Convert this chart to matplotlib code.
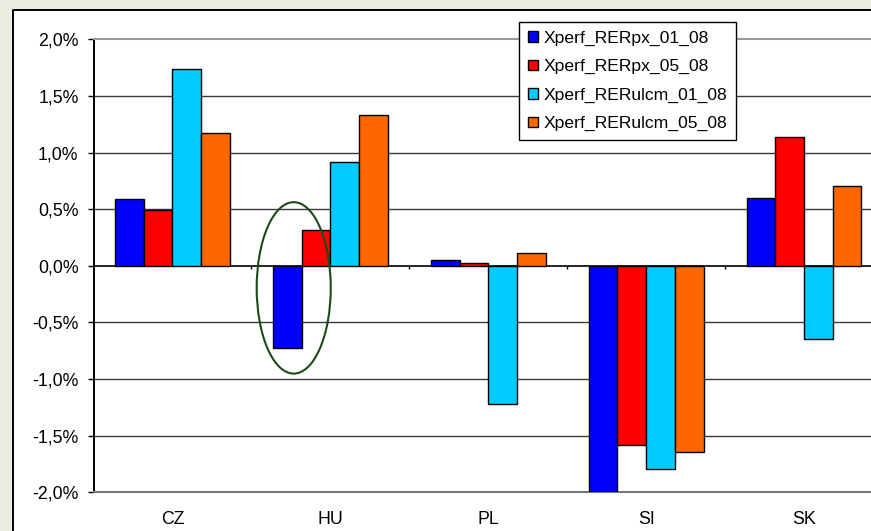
import numpy as np
import matplotlib
matplotlib.use("Agg")
import matplotlib.pyplot as plt
from matplotlib.patches import Rectangle, Ellipse
from matplotlib.lines import Line2D
from matplotlib.ticker import FuncFormatter

plt.rcParams['font.family'] = ['Liberation Sans', 'DejaVu Sans']

# data (in %)
pays = ["CZ", "HU", "PL", "SI", "SK"]
series = ["Xperf_RERpx_01_08", "Xperf_RERpx_05_08", "Xperf_RERulcm_01_08", "Xperf_RERulcm_05_08"]
rerpx_01 = [0.587, -0.727, 0.05, -2.0, 0.599]
rerpx_05 = [0.49, 0.317, 0.026, -1.585, 1.133]
rerulcm_01 = [1.734, 0.915, -1.217, -1.793, -0.645]
rerulcm_05 = [1.171, 1.329, 0.112, -1.643, 0.708]
couleurs = ["#0000FF", "#FF0000", "#00CCFF", "#FF6600"]
yticks = [-2.0, -1.5, -1.0, -0.5, 0.0, 0.5, 1.0, 1.5, 2.0]

W, H = 871, 531
fig = plt.figure(figsize=(W / 100, H / 100), dpi=100)
fig.patch.set_facecolor("#ECECE1")

# white chart area, cropped on right and bottom
x0, y0 = 13.3 / W, 1 - 9.5 / H
fond = Rectangle((x0, -0.1), 1.2, y0 + 0.1, transform=fig.transFigure,
                 facecolor="white", edgecolor="none", zorder=-5)
fig.patches.append(fond)
fig.lines.append(Line2D([x0, x0, 1.01], [-0.01, y0, y0], transform=fig.transFigure,
                        color="black", linewidth=1.4, zorder=-4))

left, right = 93.5, 93.5 + 5 * 157.9
top, bottom = 39.3, 492.3
ax = fig.add_axes([left / W, 1 - bottom / H, (right - left) / W, (bottom - top) / H])
ax.set_facecolor("white")
ax.set_zorder(1)

x = np.arange(len(pays))
w = 1 / 5.5
donnees = [rerpx_01, rerpx_05, rerulcm_01, rerulcm_05]
for i, (vals, c, lab) in enumerate(zip(donnees, couleurs, series)):
    ax.bar(x + (i - 1.5) * w, vals, w, color=c, edgecolor="black", linewidth=1.0,
           label=lab, zorder=3)

ax.set_xlim(-0.5, 4.5)
ax.set_ylim(-2.0, 2.0)
ax.set_yticks(yticks)
ax.yaxis.set_major_formatter(FuncFormatter(lambda v, p: ("%.1f%%" % v).replace(".", ",")))
for v in yticks[1:-1]:
    if v == 0:
        continue
    ax.axhline(v, color="#3a3a3a", linewidth=1.0, zorder=1)
ax.axhline(0, color="black", linewidth=1.2, zorder=2)
# category separator ticks on the zero line
ax.vlines(x[1:] - 0.5, 0, -0.027, color="black", linewidth=1.0, zorder=2)

ax.set_xticks(x)
ax.set_xticklabels(pays)
ax.tick_params(axis="x", length=0, pad=13.5, labelsize=12.8)
ax.tick_params(axis="y", length=4.3, width=1.0, pad=6.5, labelsize=12.8, direction="out")

ax.spines["left"].set_color("black")
ax.spines["left"].set_linewidth(1.4)
ax.spines["top"].set_color("#999999")
ax.spines["top"].set_linewidth(1.5)
ax.spines["bottom"].set_color("#777777")
ax.spines["bottom"].set_linewidth(1.5)
ax.spines["right"].set_visible(False)

# hand-drawn ellipse around HU
ell = Ellipse((0.768, -0.195), 0.469, 1.514, fill=False, edgecolor="#1C4A1C",
              linewidth=1.5, zorder=4)
ax.add_patch(ell)

leg = ax.legend(loc="upper left", bbox_to_anchor=(519.3 / W, 1 - 21.7 / H),
                bbox_transform=fig.transFigure, borderaxespad=0, fontsize=12.6,
                frameon=True, fancybox=False, framealpha=1, edgecolor="black",
                handlelength=0.55, handleheight=0.55, handletextpad=0.3,
                labelspacing=0.76, borderpad=0.52)
leg.get_frame().set_linewidth(1.0)
leg.set_zorder(10)

fig.savefig("out.png", dpi=100, facecolor=fig.get_facecolor())
